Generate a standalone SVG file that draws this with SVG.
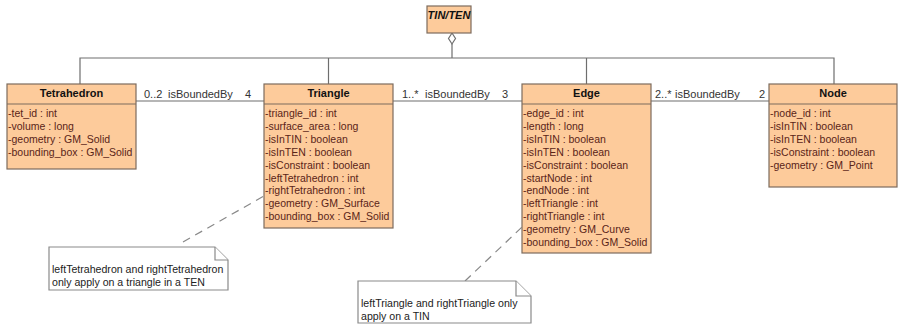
<svg xmlns="http://www.w3.org/2000/svg" width="898" height="326" viewBox="0 0 898 326">
  <style>
    .box { fill: #fdcb9b; stroke: #7d6c5e; stroke-width: 1.2; }
    .div { stroke: #7d6c5e; stroke-width: 1.2; }
    .title { font-family: "Liberation Sans", Arial, sans-serif; font-size: 11px; font-weight: bold; fill: #111; text-anchor: middle; }
    .attr { font-family: "Liberation Sans", Arial, sans-serif; font-size: 10.5px; fill: #5a2418; }
    .lbl { font-family: "Liberation Sans", Arial, sans-serif; font-size: 11px; fill: #333; }
    .line { stroke: #6e6e6e; stroke-width: 1.2; fill: none; }
    .dash { stroke: #888; stroke-width: 1.2; fill: none; stroke-dasharray: 8 6; }
    .note { fill: #fff; stroke: #8a8a8a; stroke-width: 1.2; }
    .ntext { font-family: "Liberation Sans", Arial, sans-serif; font-size: 10.6px; fill: #222; }
  </style>

  <!-- connectors -->
  <g id="connectors">
    <!-- aggregation tree from TIN/TEN -->
    <polyline class="line" points="452,44 452,58"/>
    <polyline class="line" points="80,84 80,58 834,58 834,84"/>
    <line class="line" x1="328.5" y1="58" x2="328.5" y2="84"/>
    <line class="line" x1="586.5" y1="58" x2="586.5" y2="84"/>
    <polygon points="452,33 455.5,38.5 452,44 448.5,38.5" fill="#fff" stroke="#6e6e6e" stroke-width="1.2"/>
    <!-- isBoundedBy associations -->
    <line class="line" x1="136" y1="101" x2="264" y2="101"/>
    <line class="line" x1="393" y1="101" x2="522" y2="101"/>
    <line class="line" x1="651" y1="101" x2="769" y2="101"/>
    <text class="lbl" x="144" y="98">0..2</text>
    <text class="lbl" x="168" y="98">isBoundedBy</text>
    <text class="lbl" x="245" y="98">4</text>
    <text class="lbl" x="402" y="98">1..*</text>
    <text class="lbl" x="425" y="98">isBoundedBy</text>
    <text class="lbl" x="502" y="98">3</text>
    <text class="lbl" x="655" y="98">2..*</text>
    <text class="lbl" x="675" y="98">isBoundedBy</text>
    <text class="lbl" x="759" y="98">2</text>
    <!-- note anchors -->
    <line class="dash" x1="183" y1="242" x2="264" y2="196"/>
    <line class="dash" x1="465" y1="281" x2="522" y2="227"/>
  </g>

  <g id="tinten">
    <rect class="box" x="427" y="6" width="44" height="27"/>
    <text class="title" x="449" y="19" font-style="italic">TIN/TEN</text>
  </g>

  <g id="tetrahedron">
    <rect class="box" x="7" y="84" width="129" height="85"/>
    <line class="div" x1="7" y1="104" x2="136" y2="104"/>
    <text class="title" x="71.5" y="97">Tetrahedron</text>
    <text class="attr" x="8" y="117">-tet_id : int</text>
    <text class="attr" x="8" y="129.9">-volume : long</text>
    <text class="attr" x="8" y="142.8">-geometry : GM_Solid</text>
    <text class="attr" x="8" y="155.7">-bounding_box : GM_Solid</text>
  </g>

  <g id="triangle">
    <rect class="box" x="264" y="84" width="129" height="144"/>
    <line class="div" x1="264" y1="104" x2="393" y2="104"/>
    <text class="title" x="328.5" y="97">Triangle</text>
    <text class="attr" x="265" y="117">-triangle_id : int</text>
    <text class="attr" x="265" y="129.9">-surface_area : long</text>
    <text class="attr" x="265" y="142.8">-isInTIN : boolean</text>
    <text class="attr" x="265" y="155.7">-isInTEN : boolean</text>
    <text class="attr" x="265" y="168.6">-isConstraint : boolean</text>
    <text class="attr" x="265" y="181.5">-leftTetrahedron : int</text>
    <text class="attr" x="265" y="194.4">-rightTetrahedron : int</text>
    <text class="attr" x="265" y="207.3">-geometry : GM_Surface</text>
    <text class="attr" x="265" y="220.2">-bounding_box : GM_Solid</text>
  </g>

  <g id="edge">
    <rect class="box" x="522" y="84" width="129" height="169"/>
    <line class="div" x1="522" y1="104" x2="651" y2="104"/>
    <text class="title" x="586.5" y="97">Edge</text>
    <text class="attr" x="523" y="117">-edge_id : int</text>
    <text class="attr" x="523" y="129.9">-length : long</text>
    <text class="attr" x="523" y="142.8">-isInTIN : boolean</text>
    <text class="attr" x="523" y="155.7">-isInTEN : boolean</text>
    <text class="attr" x="523" y="168.6">-isConstraint : boolean</text>
    <text class="attr" x="523" y="181.5">-startNode : int</text>
    <text class="attr" x="523" y="194.4">-endNode : int</text>
    <text class="attr" x="523" y="207.3">-leftTriangle : int</text>
    <text class="attr" x="523" y="220.2">-rightTriangle : int</text>
    <text class="attr" x="523" y="233.1">-geometry : GM_Curve</text>
    <text class="attr" x="523" y="246">-bounding_box : GM_Solid</text>
  </g>

  <g id="node">
    <rect class="box" x="769" y="84" width="128" height="103"/>
    <line class="div" x1="769" y1="104" x2="897" y2="104"/>
    <text class="title" x="833" y="97">Node</text>
    <text class="attr" x="770" y="117">-node_id : int</text>
    <text class="attr" x="770" y="129.9">-isInTIN : boolean</text>
    <text class="attr" x="770" y="142.8">-isInTEN : boolean</text>
    <text class="attr" x="770" y="155.7">-isConstraint : boolean</text>
    <text class="attr" x="770" y="168.6">-geometry : GM_Point</text>
  </g>

  <g id="note-tetrahedron">
    <path class="note" d="M49,247 H215 L228,260 V290 H49 Z"/>
    <polyline class="note" points="215,247 215,260 228,260" fill="none"/>
    <text class="ntext" x="52" y="273">leftTetrahedron and rightTetrahedron</text>
    <text class="ntext" x="52" y="286">only apply on a triangle in a TEN</text>
  </g>

  <g id="note-triangle">
    <path class="note" d="M358,281 H516 L531,296 V323 H358 Z"/>
    <polyline class="note" points="516,281 516,296 531,296" fill="none"/>
    <text class="ntext" x="361" y="307">leftTriangle and rightTriangle only</text>
    <text class="ntext" x="361" y="320">apply on a TIN</text>
  </g>
</svg>
